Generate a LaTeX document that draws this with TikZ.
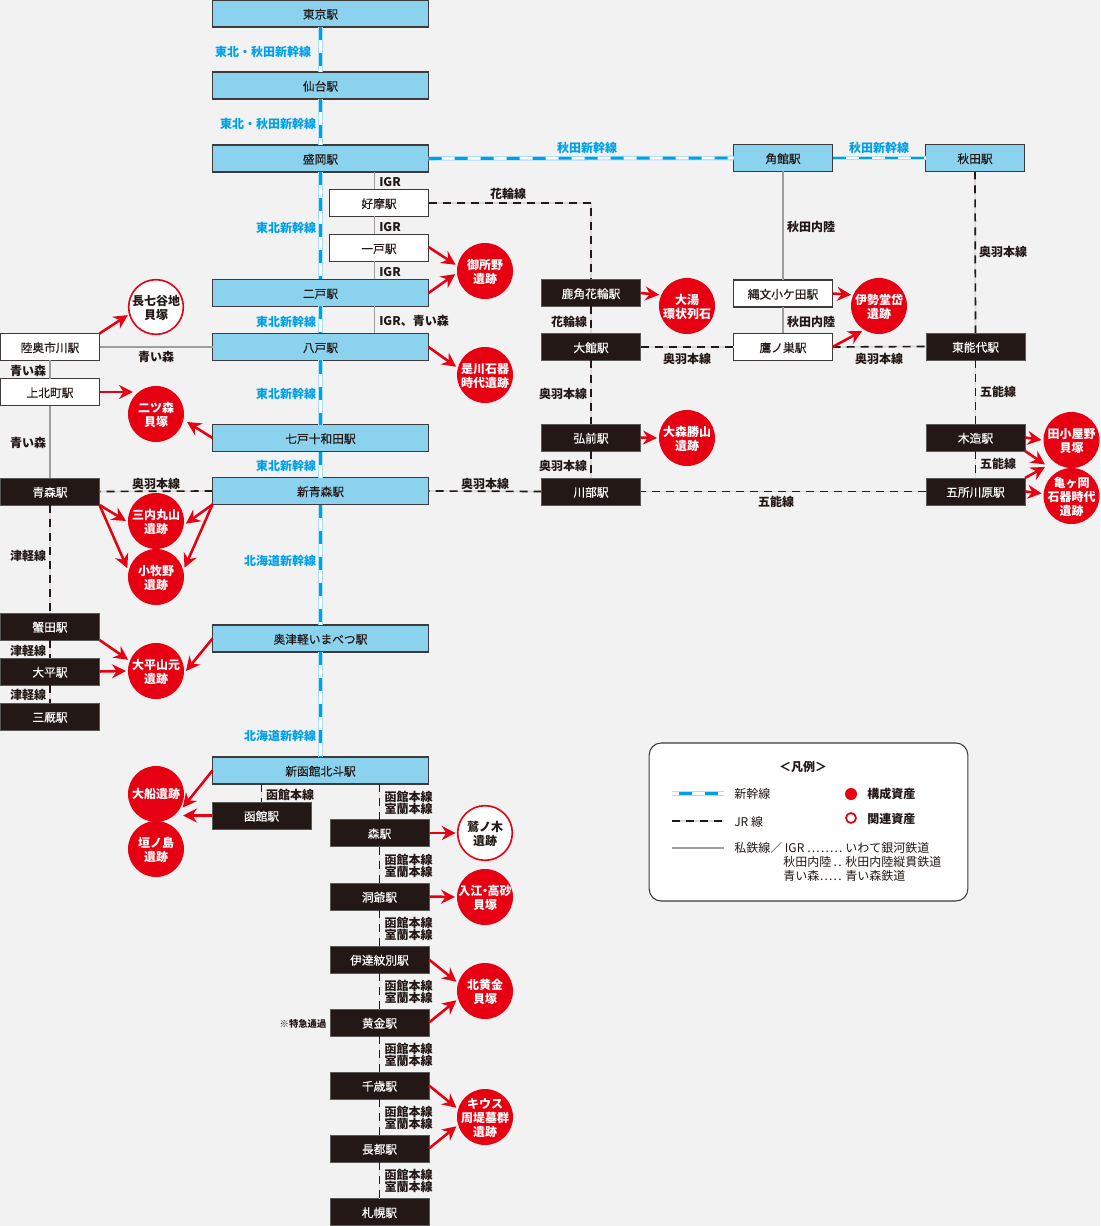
\documentclass[tikz,border=0pt]{standalone}
\usepackage{fontspec}
\setmainfont{Noto Sans CJK JP}
\newfontfamily\medfont[FakeBold=0.18]{Noto Sans CJK JP}
\newcommand{\leaderdots}{\leaders\hbox to 3.4pt{\hss.\hss}\hfill}
\newcommand{\tp}{\rule{0pt}{9.6pt}}
\usetikzlibrary{arrows.meta,calc}
\definecolor{bgc}{HTML}{F2F2F2}
\definecolor{skyb}{HTML}{8AD2EE}
\definecolor{blackst}{HTML}{231815}
\definecolor{edgec}{HTML}{3E3A39}
\definecolor{redc}{HTML}{E60012}
\definecolor{cyanc}{HTML}{00A0E9}
\definecolor{lightc}{HTML}{A9E0F5}
\tikzset{
 stbase/.style={rectangle,inner sep=0pt,outer sep=0pt,minimum height=20.25pt,font=\fontsize{8.8}{10}\selectfont\medfont,execute at begin node={\rule{0pt}{8.5pt}}},
 bluest/.style={stbase,fill=skyb,draw=edgec,line width=1pt,text=blackst},
 whitest/.style={stbase,fill=white,draw=edgec,line width=.9pt,text=blackst},
 darkst/.style={stbase,fill=blackst,draw=black!65,line width=.3pt,text=white},
 wlong/.style={minimum width=162pt},
 wshort/.style={minimum width=74.25pt},
 site/.style={circle,fill=redc,text=white,inner sep=-8pt,minimum size=42pt,outer sep=1.5pt,align=center,font=\fontsize{9}{10.5}\selectfont\bfseries},
 sitehollow/.style={site,fill=white,draw=redc,line width=1.2pt,text=blackst,minimum size=41pt},
 shink/.style={draw=cyanc,line width=2.2pt,dash pattern=on 9.75pt off 9.75pt,
   preaction={draw=lightc,solid,line width=3.4pt},preaction={draw=white,solid,line width=1.7pt}},
 jrline/.style={draw=blackst,line width=1.25pt,dash pattern=on 6pt off 4.5pt,preaction={draw=black!14,solid,line width=1.25pt}},
 priv/.style={draw=black!38,line width=.9pt},
 toarrow/.style={draw=redc,line width=1.9pt,-{Stealth[length=10.5pt,width=10.5pt,inset=3.5pt]}},
 lbl/.style={inner sep=0pt,yshift=-.75pt,text=blackst,align=left,font=\fontsize{9}{9}\selectfont\bfseries},
 lblblue/.style={lbl,text=cyanc},
 legendt/.style={inner sep=0pt,yshift=-.5pt,text=blackst,anchor=west,font=\fontsize{9}{10}\selectfont},
}
\begin{document}
\begin{tikzpicture}[x=.75pt,y=-.75pt]
\useasboundingbox[fill=bgc] (0,0) rectangle (1100,1226);
% blue stations
\node[bluest,wlong] (tokyo) at (320.5,13.5) {東京駅};
\node[bluest,wlong] (sendai) at (320.5,85.5) {仙台駅};
\node[bluest,wlong] (morioka) at (320.5,158.5) {盛岡駅};
\node[bluest,wlong] (ninohe) at (320.5,293) {二戸駅};
\node[bluest,wlong] (hachinohe) at (320.5,347) {八戸駅};
\node[bluest,wlong] (shichinohe) at (320.5,438) {七戸十和田駅};
\node[bluest,wlong] (shinaomori) at (320.5,491) {新青森駅};
\node[bluest,wlong] (okutsugaru) at (320.5,638.5) {奥津軽いまべつ駅};
\node[bluest,wlong] (shinhakodate) at (320.5,770.5) {新函館北斗駅};
\node[bluest,wshort] (kakunodate) at (783,158) {角館駅};
\node[bluest,wshort] (akita) at (975,158) {秋田駅};
% white stations
\node[whitest,wshort] (koma) at (379,203) {好摩駅};
\node[whitest,wshort] (ichinohe) at (379,248) {一戸駅};
\node[whitest,wshort] (mutsuichikawa) at (50,347) {陸奥市川駅};
\node[whitest,wshort] (kamikita) at (50,392) {上北町駅};
\node[whitest,wshort] (jomon) at (783,293.5) {縄文小ケ田駅};
\node[whitest,wshort] (takanosu) at (783,347) {鷹ノ巣駅};
% dark stations
\node[darkst,wshort] (aomori) at (50,491.5) {青森駅};
\node[darkst,wshort] (kanita) at (50,626.5) {蟹田駅};
\node[darkst,wshort] (odai) at (50,671.5) {大平駅};
\node[darkst,wshort] (minmaya) at (50,716.5) {三厩駅};
\node[darkst,wshort] (hakodate) at (261.5,815.5) {函館駅};
\node[darkst,wshort] (mori) at (379.5,833) {森駅};
\node[darkst,wshort] (toya) at (379.5,896.5) {洞爺駅};
\node[darkst,wshort] (date) at (379.5,959.5) {伊達紋別駅};
\node[darkst,wshort] (kogane) at (379.5,1022.5) {黄金駅};
\node[darkst,wshort] (chitose) at (379.5,1085.5) {千歳駅};
\node[darkst,wshort] (osatsu) at (379.5,1148.5) {長都駅};
\node[darkst,wshort] (sapporo) at (379.5,1212) {札幌駅};
\node[darkst,wshort] (kazuno) at (591,293) {鹿角花輪駅};
\node[darkst,wshort] (odate) at (591,347) {大館駅};
\node[darkst,wshort] (hirosaki) at (591,437.5) {弘前駅};
\node[darkst,wshort] (kawabe) at (591,491.5) {川部駅};
\node[darkst,wshort] (higashinoshiro) at (975.5,346.5) {東能代駅};
\node[darkst,wshort] (kizukuri) at (975.5,437.5) {木造駅};
\node[darkst,wshort] (goshogawara) at (975.5,491.5) {五所川原駅};
% sites
\node[site] (goshono) at (485,271) {\tp 御所野\\遺跡};
\node[site] (oyu) at (687,306) {\tp 大湯\\環状列石};
\node[site] (isedotai) at (879,306) {\tp 伊勢堂岱\\遺跡};
\node[site] (korekawa) at (485,375) {\tp 是川石器\\時代遺跡};
\node[site] (futatsumori) at (156,414) {\tp 二ツ森\\貝塚};
\node[site] (omori) at (687,438) {\tp 大森勝山\\遺跡};
\node[site] (tagoyano) at (1071.5,440) {\tp 田小屋野\\貝塚};
\node[site] (kamegaoka) at (1071.5,496) {\tp 亀ヶ岡\\石器時代\\遺跡};
\node[site] (sannai) at (156,521) {\tp 三内丸山\\遺跡};
\node[site] (komakino) at (156,577) {\tp 小牧野\\遺跡};
\node[site] (odaiyamamoto) at (156,671) {\tp 大平山元\\遺跡};
\node[site] (ofune) at (156,794) {大船遺跡};
\node[site] (kakinoshima) at (156,849) {\tp 垣ノ島\\遺跡};
\node[site] (irie) at (485,897) {\tp 入江\kern-2.5pt・\kern-2.5pt高砂\\貝塚};
\node[site] (kitakogane) at (485,991) {\tp 北黄金\\貝塚};
\node[site] (kiusu) at (485,1117) {\tp キウス\\周堤墓群\\遺跡};
\node[sitehollow] (choshichiyachi) at (156,307) {\tp 長七谷地\\貝塚};
\node[sitehollow] (washinoki) at (485,833) {\tp 鷲ノ木\\遺跡};
% shinkansen
\foreach \a/\b in {tokyo/sendai,sendai/morioka,morioka/ninohe,ninohe/hachinohe,hachinohe/shichinohe,shichinohe/shinaomori,shinaomori/okutsugaru,okutsugaru/shinhakodate}
  \path[shink] (\a.south) -- (\b.north);
\path[shink] (morioka.east) -- (kakunodate.west);
\path[shink] (kakunodate.east) -- (akita.west);
% private lines
\foreach \a/\b in {morioka/koma,koma/ichinohe,ichinohe/ninohe,ninohe/hachinohe}
  \draw[priv] ([xshift=-3.6pt]koma.south |- \a.south) -- ([xshift=-3.6pt]koma.south |- \b.north);
\draw[priv] (mutsuichikawa.east) -- (hachinohe.west);
\draw[priv] (mutsuichikawa.south) -- (kamikita.north);
\draw[priv] (kamikita.south) -- (aomori.north);
\draw[priv] (kakunodate.south) -- (jomon.north);
\draw[priv] (jomon.south) -- (takanosu.north);
% JR lines
\path[jrline] (koma.east) -| (kazuno.north);
\foreach \a/\b in {kazuno/odate,odate/hirosaki,hirosaki/kawabe,akita/higashinoshiro,higashinoshiro/kizukuri,kizukuri/goshogawara,aomori/kanita,kanita/odai,odai/minmaya}
  \path[jrline] (\a.south) -- (\b.north);
\path[jrline] (odate.east) -- (takanosu.west);
\path[jrline] (takanosu.east) -- (higashinoshiro.west);
\path[jrline] (goshogawara.west) -- (kawabe.east);
\path[jrline] (kawabe.west) -- (shinaomori.east);
\path[jrline] (shinaomori.west) -- (aomori.east);
\path[jrline] (hakodate.north |- shinhakodate.south) -- (hakodate.north);
\path[jrline] (mori.north |- shinhakodate.south) -- (mori.north);
\foreach \a/\b in {mori/toya,toya/date,date/kogane,kogane/chitose,chitose/osatsu,osatsu/sapporo}
  \path[jrline] (\a.south) -- (\b.north);
% arrows
\coordinate (tipkamikita) at (133,392);
\coordinate (tipshichinohe) at (187,422);
\coordinate (tiphakodate) at (183,815.5);
\coordinate (tipkizukuri) at (1045,464.5);
\coordinate (tipgosho) at (1045,467);
\draw[toarrow] (ichinohe.east) ++(0,-1) -- (goshono.168);
\draw[toarrow] (ninohe.east) -- (goshono.186);
\draw[toarrow] (hachinohe.east) -- (korekawa.164);
\draw[toarrow] (kazuno.east) -- (oyu.158);
\draw[toarrow] (jomon.east) -- (isedotai.158);
\draw[toarrow] (takanosu.east) -- (isedotai.236);
\draw[toarrow] (hirosaki.east) -- (omori.180);
\draw[toarrow] (kizukuri.east) -- (tagoyano.180);
\draw[toarrow] (kizukuri.south east) -- (tipkizukuri);
\draw[toarrow] (goshogawara.north east) -- (tipgosho);
\draw[toarrow] (goshogawara.east) -- (kamegaoka.175);
\draw[toarrow] (mutsuichikawa.north east) -- (choshichiyachi.196);
\draw[toarrow] (kamikita.east) -- (tipkamikita);
\draw[toarrow] (shichinohe.west) -- (tipshichinohe);
\draw[toarrow] (aomori.south east) -- (sannai.180);
\draw[toarrow] (aomori.south east) -- (komakino.163);
\draw[toarrow] (shinaomori.south west) -- (sannai.-5);
\draw[toarrow] (shinaomori.south west) -- (komakino.18);
\draw[toarrow] (kanita.south east) -- (odaiyamamoto.158);
\draw[toarrow] (odai.east) -- (odaiyamamoto.180);
\draw[toarrow] (okutsugaru.west) -- (odaiyamamoto.0);
\draw[toarrow] (shinhakodate.west) -- (ofune.-27);
\draw[toarrow] (hakodate.west) -- (tiphakodate);
\draw[toarrow] (mori.east) -- (washinoki.180);
\draw[toarrow] (toya.east) -- (irie.180);
\draw[toarrow] (date.east) -- (kitakogane.162);
\draw[toarrow] (kogane.east) -- (kitakogane.198);
\draw[toarrow] (chitose.east) -- (kiusu.162);
\draw[toarrow] (osatsu.east) -- (kiusu.198);
% shinkansen labels
\node[lblblue] (l1) at (263,51) {東北・秋田新幹線};
\node[lblblue] (l2) at (268,123) {東北・秋田新幹線};
\node[lblblue] (l3) at (587,147) {秋田新幹線};
\node[lblblue] (l4) at (879,147) {秋田新幹線};
\node[lblblue] (l5) at (286,227) {東北新幹線};
\node[lblblue] (l6) at (286,321) {東北新幹線};
\node[lblblue] (l7) at (286,393) {東北新幹線};
\node[lblblue] (l8) at (286,465) {東北新幹線};
\node[lblblue] (l9) at (280,560) {北海道新幹線};
\node[lblblue] (l10) at (280,735) {北海道新幹線};
% line labels
\node[lbl] (m1) at (390,181) {IGR};
\node[lbl] (m2) at (390,226) {IGR};
\node[lbl] (m3) at (390,271) {IGR};
\node[lbl] (m4) at (414,320) {IGR、青い森};
\node[lbl] (m5) at (508,193) {花輪線};
\node[lbl] (m6) at (569,321) {花輪線};
\node[lbl] (m7) at (811,226) {秋田内陸};
\node[lbl] (m8) at (811,321) {秋田内陸};
\node[lbl] (m9) at (1003,251) {奥羽本線};
\node[lbl] (m10) at (998,391) {五能線};
\node[lbl] (m11) at (998,463) {五能線};
\node[lbl] (m12) at (776,501) {五能線};
\node[lbl] (m13) at (687,358) {奥羽本線};
\node[lbl] (m14) at (879,358) {奥羽本線};
\node[lbl] (m15) at (563,393) {奥羽本線};
\node[lbl] (m16) at (563,465) {奥羽本線};
\node[lbl] (m17) at (485,483) {奥羽本線};
\node[lbl] (m18) at (156,483) {奥羽本線};
\node[lbl] (m19) at (156,356) {青い森};
\node[lbl] (m20) at (28,370) {青い森};
\node[lbl] (m21) at (28,442) {青い森};
\node[lbl] (m22) at (28,555) {津軽線};
\node[lbl] (m23) at (28,650) {津軽線};
\node[lbl] (m24) at (28,694) {津軽線};
\node[lbl] (m25) at (290,794) {函館本線};
\foreach \n/\y in {a/801.5,b/865,c/928,d/991,e/1054,f/1117,g/1180}
  \node[lbl] (r\n) at (408.5,\y) {函館本線\\室蘭本線};
\node[lbl,font=\fontsize{7}{8}\selectfont\bfseries] (m26) at (303,1023) {※特急通過};
% legend
\node[draw=edgec,line width=.8pt,fill=white,rounded corners=9pt,minimum width=239pt,minimum height=118.5pt,inner sep=0pt] (legend) at (808.5,822) {};
\node[inner sep=0pt,yshift=-.75pt,text=blackst,font=\fontsize{9}{10}\selectfont\bfseries] (lt) at (803,766) {＜凡例＞};
\coordinate (la1) at (672,793.5); \coordinate (la2) at (724,793.5);
\coordinate (lb1) at (672,821); \coordinate (lb2) at (724,821);
\coordinate (lc1) at (672,848); \coordinate (lc2) at (724,848);
\path[shink,dash pattern=on 9.75pt off 9.75pt,dash phase=-5pt] (la1) -- (la2);
\path[jrline] (lb1) -- (lb2);
\draw[priv] (lc1) -- (lc2);
\node[legendt] (t1) at (734,793.5) {新幹線};
\node[legendt] (t2) at (734,821) {JR 線};
\node[legendt] (t3) at (734,847) {\makebox[83.25pt][l]{私鉄線／ IGR\leaderdots}いわて銀河鉄道};
\node[legendt] (t4) at (783,861) {\makebox[46.5pt][l]{秋田内陸\leaderdots}秋田内陸縦貫鉄道};
\node[legendt] (t5) at (783,875) {\makebox[46.5pt][l]{青い森\leaderdots}青い森鉄道};
\node[circle,fill=redc,inner sep=0pt,minimum size=9pt] (k1) at (851,794) {};
\node[circle,draw=redc,fill=white,line width=1.3pt,inner sep=0pt,minimum size=7.5pt] (k2) at (851,818) {};
\node[legendt,font=\fontsize{9}{10}\selectfont\bfseries] (t6) at (867,793.5) {構成資産};
\node[legendt,font=\fontsize{9}{10}\selectfont\bfseries] (t7) at (867,818) {関連資産};
\end{tikzpicture}
\end{document}
